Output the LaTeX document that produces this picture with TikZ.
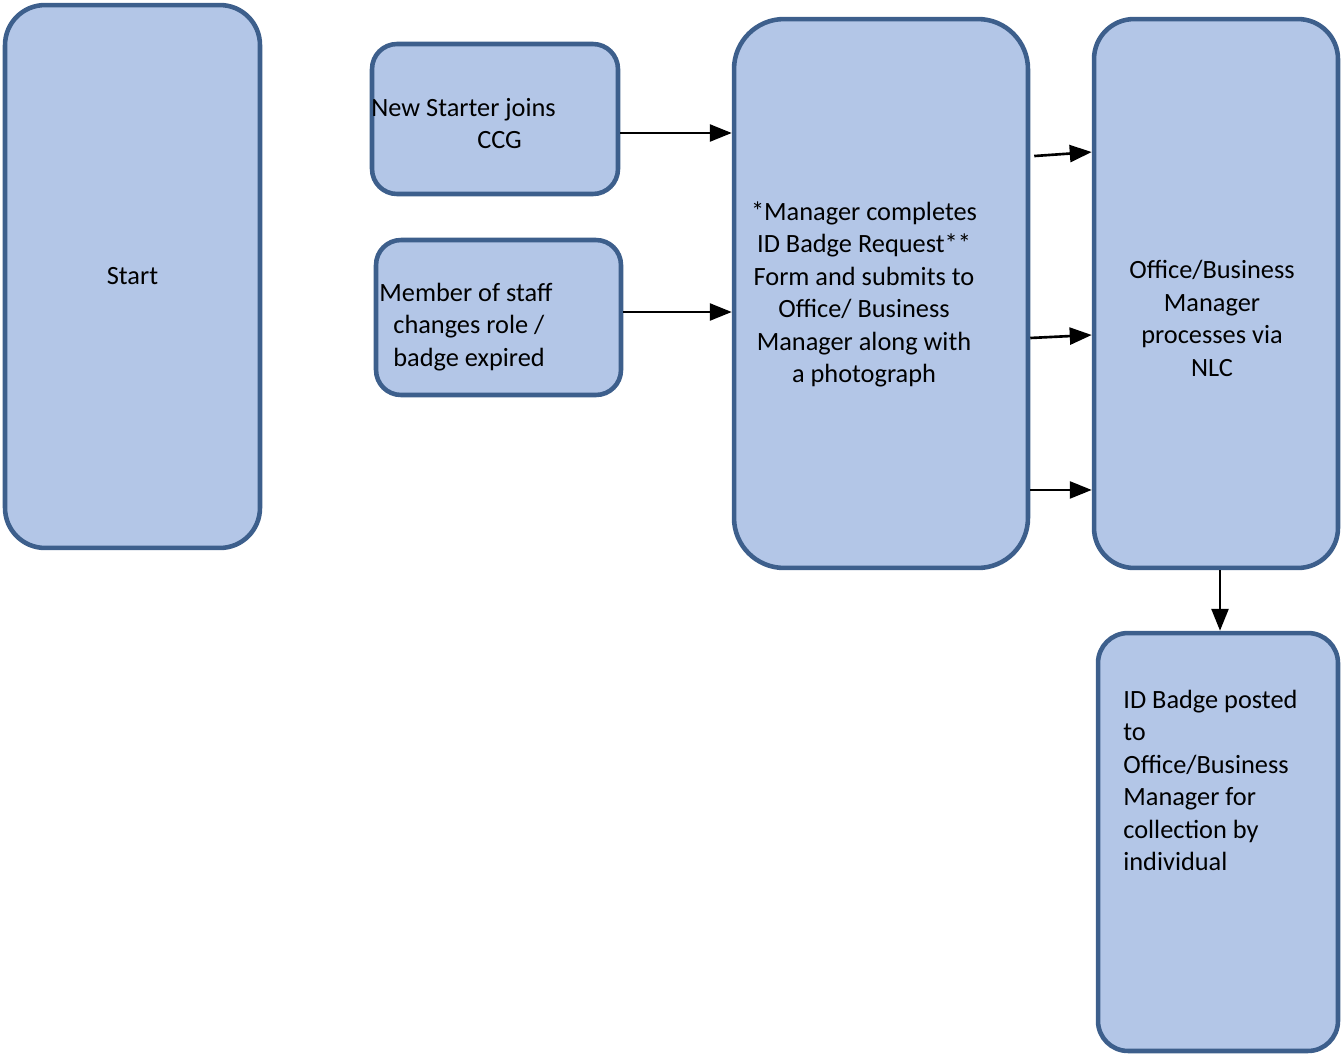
\documentclass[tikz,border=0pt]{standalone}
\usepackage{fontspec}
\setmainfont{Carlito}
\usepackage{tikz}
\usetikzlibrary{arrows.meta, positioning, calc}
\definecolor{boxfill}{RGB}{179,198,231}
\definecolor{boxline}{RGB}{61,95,140}
\tikzset{
  box/.style={rectangle, draw=boxline, fill=boxfill, line width=2.6pt,
    inner sep=0pt},
  lbl/.style={inner sep=0pt, font=\fontsize{15}{18.5}\selectfont},
  arrow/.style={-{Triangle[length=0.44cm, width=0.34cm]}, line width=1.5pt, color=black}
}

\begin{document}
\begin{tikzpicture}[x=0.02cm, y=-0.02cm]
  \useasboundingbox (0,0) rectangle (1342,1055);

  % Start
  \node[box, rounded corners=0.8cm, minimum width=5.1cm, minimum height=10.86cm,
    lbl] (start) at (132.5,276.5) {Start};

  % New starter
  \node[box, rounded corners=0.5cm, minimum width=4.92cm, minimum height=3.0cm] (newst) at (495,119) {};
  \node[lbl, anchor=west, align=left] (newsttext) at (371,123.5) {New Starter joins\\\hspace*{2.12cm}CCG};

  % Member of staff
  \node[box, rounded corners=0.5cm, minimum width=4.9cm, minimum height=3.1cm] (member) at (498.5,317.5) {};
  \node[lbl, anchor=west, align=left] (membertext) at (379,327) {Member of staff\\\hspace*{0.28cm}changes role /\\\hspace*{0.28cm}badge expired};

  % Manager request
  \node[box, rounded corners=1cm, minimum width=5.88cm, minimum height=10.98cm] (mgr) at (881,293.5) {};
  \node[lbl, align=center] (mgrtext) at (864,294.5) {*Manager completes\\ID Badge Request**\\Form and submits to\\Office/ Business\\Manager along with\\a photograph};

  % Office processing
  \node[box, rounded corners=0.8cm, minimum width=4.88cm, minimum height=10.98cm] (office) at (1216,293.5) {};
  \node[lbl, align=center] (officetext) at (1212,318.5) {Office/Business\\Manager\\processes via\\NLC};

  % Badge posted
  \node[box, rounded corners=0.6cm, minimum width=4.8cm, minimum height=8.36cm] (badge) at (1218,842) {};
  \node[lbl, anchor=west, align=left] (badgetext) at (1123,780.5) {ID Badge posted\\to\\Office/Business\\Manager for\\collection by\\individual};

  % Paths
  \coordinate (a1) at ([yshift=-0.28cm]newst.east);
  \coordinate (a2) at ([yshift=0.11cm]member.east);
  \draw[arrow] (a1) -- (a1 -| mgr.west);
  \draw[arrow] (a2) -- (a2 -| mgr.west);

  \coordinate (b1) at ([yshift=2.75cm]mgr.east);
  \coordinate (b2) at ([yshift=2.83cm]office.west);
  \coordinate (b3) at ([yshift=-0.89cm]mgr.east);
  \coordinate (b4) at ([yshift=-0.83cm]office.west);
  \coordinate (b5) at ([yshift=-3.93cm]mgr.east);
  \draw[arrow] ([xshift=0.08cm]b1) -- (b2);
  \draw[arrow] (b3) -- (b4);
  \draw[arrow] (b5) -- (b5 -| office.west);

  \coordinate (c1) at ([xshift=0.08cm]office.south);
  \draw[arrow] (c1) -- (c1 |- badge.north);
\end{tikzpicture}
\end{document}
